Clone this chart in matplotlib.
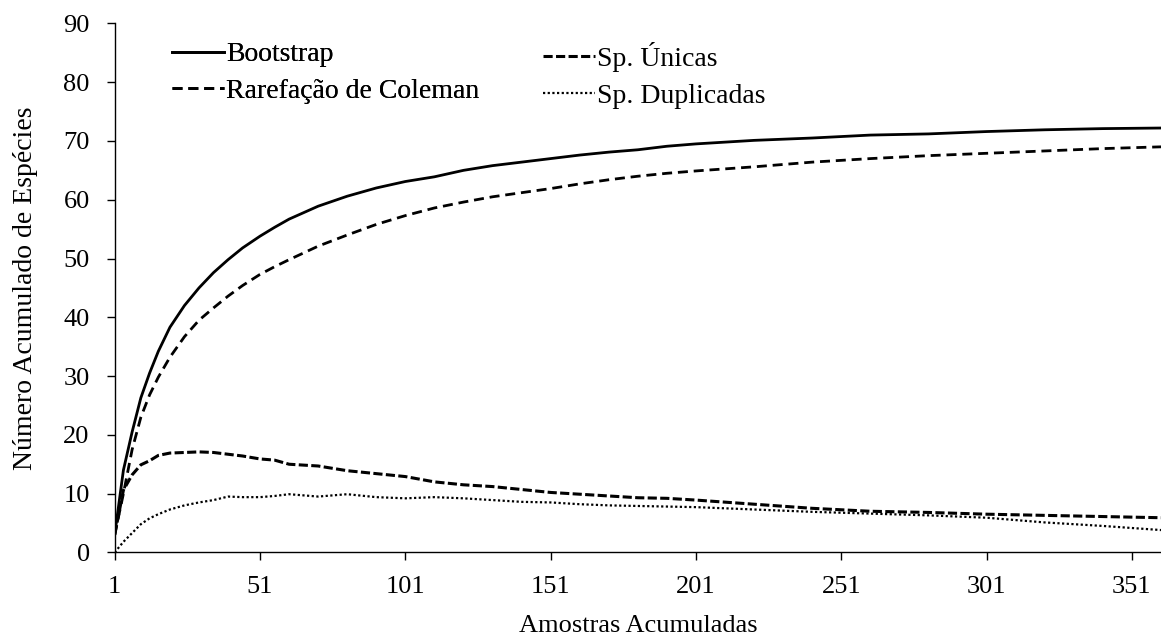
import matplotlib
matplotlib.use("Agg")
import matplotlib.pyplot as plt

plt.rcParams["font.family"] = ["Liberation Serif", "DejaVu Serif"]

# Sample counts at which the curves are read
amostras = [1, 4, 7, 10, 13, 16, 20, 25, 30, 35, 40, 45, 51, 56, 61, 71, 81, 91,
            101, 111, 121, 131, 141, 151, 161, 171, 181, 191, 201, 221, 241, 261,
            281, 301, 321, 341, 361]

bootstrap = [3, 14, 20.5, 26.3, 30.5, 34.2, 38.3, 42, 45, 47.6, 49.8, 51.8, 53.8,
             55.3, 56.7, 58.9, 60.6, 62.0, 63.1, 63.9, 65.0, 65.8, 66.4, 67.0,
             67.6, 68.1, 68.5, 69.1, 69.5, 70.1, 70.5, 71.0, 71.2, 71.6, 71.9,
             72.1, 72.2]

coleman = [3, 10, 17.5, 23, 26.8, 29.8, 33.2, 36.7, 39.5, 41.6, 43.6, 45.4, 47.3,
           48.6, 49.8, 52.1, 54.0, 55.8, 57.3, 58.6, 59.6, 60.5, 61.2, 61.9, 62.7,
           63.4, 64.0, 64.5, 64.9, 65.6, 66.4, 67.0, 67.5, 67.9, 68.3, 68.7, 69.0]

unicas = [3, 10.6, 13.2, 14.9, 15.6, 16.5, 16.9, 17.0, 17.1, 17.0, 16.7, 16.4,
          15.9, 15.7, 15.0, 14.7, 13.9, 13.4, 12.9, 12.0, 11.5, 11.2, 10.7, 10.2,
          9.9, 9.6, 9.3, 9.2, 8.9, 8.2, 7.5, 7.0, 6.8, 6.5, 6.3, 6.1, 5.9]

duplicadas = [0, 1.8, 3.3, 4.8, 5.8, 6.5, 7.3, 8.0, 8.5, 8.9, 9.5, 9.4, 9.4, 9.6,
              9.9, 9.5, 9.9, 9.4, 9.2, 9.4, 9.2, 8.9, 8.6, 8.5, 8.2, 8.0, 7.9,
              7.8, 7.7, 7.3, 6.9, 6.6, 6.3, 5.9, 5.1, 4.5, 3.8]

x_ticks = [1, 51, 101, 151, 201, 251, 301, 351]
y_ticks = list(range(0, 91, 10))

W, H = 1161, 637
fig = plt.figure(figsize=(W / 100, H / 100), dpi=100)
left, right, bottom, top = 114.7, 1161, 552.4, 23.4
ax = fig.add_axes([left / W, 1 - bottom / H, (right - left) / W, (bottom - top) / H])

l1, = ax.plot(amostras, bootstrap, color="black", lw=2.0, label="Bootstrap")
l2, = ax.plot(amostras, coleman, color="black", lw=2.0, linestyle=(0, (3.6, 2.1)),
              label="Rarefação de Coleman")
l3, = ax.plot(amostras, unicas, color="black", lw=2.2, linestyle=(0, (3.0, 1.1)),
              label="Sp. Únicas")
l4, = ax.plot(amostras, duplicadas, color="black", lw=1.6, linestyle=(0, (1, 1.1)),
              label="Sp. Duplicadas")

ax.set_xlim(1, 361)
ax.set_ylim(0, 90)
ax.set_xticks(x_ticks)
ax.set_yticks(y_ticks)
ax.spines["top"].set_visible(False)
ax.spines["right"].set_visible(False)
ax.spines["left"].set_linewidth(1.0)
ax.spines["bottom"].set_linewidth(1.0)
ax.tick_params(axis="both", direction="out", length=6, width=1.0, labelsize=19,
               colors="black")
ax.tick_params(axis="y", pad=12)
ax.tick_params(axis="x", pad=11)

ax.set_xlabel("Amostras Acumuladas", fontsize=19, labelpad=12)
ax.set_ylabel("Número Acumulado de Espécies", fontsize=20, labelpad=18)

leg_kw = dict(frameon=False, fontsize=20, handlelength=1.87, handletextpad=0.08,
              labelspacing=0.4, borderpad=0, borderaxespad=0, loc="upper left")
leg1 = fig.legend(handles=[l1, l2], bbox_to_anchor=(172 / W, 1 - 42 / H), **leg_kw)
fig.add_artist(leg1)
fig.legend(handles=[l3, l4], bbox_to_anchor=(543 / W, 1 - 42 / H), **leg_kw)

fig.savefig("out.png", dpi=100)
